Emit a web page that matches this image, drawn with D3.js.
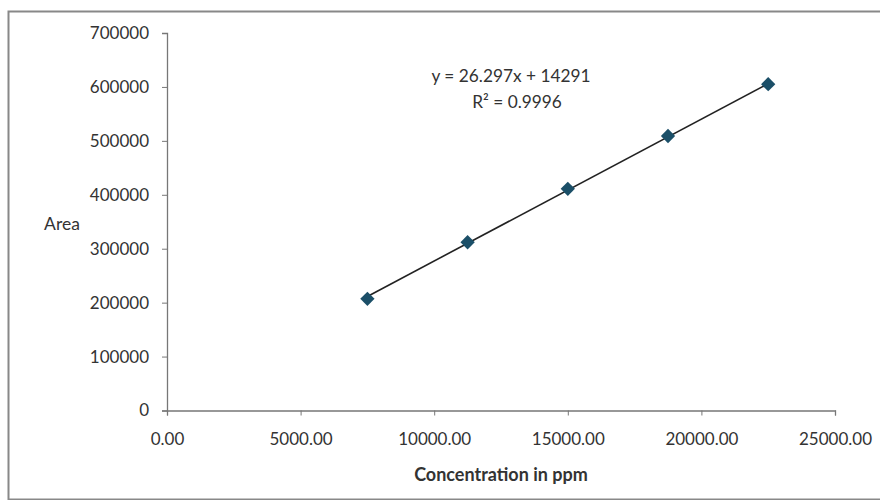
<!DOCTYPE html>
<html><head><meta charset="utf-8">
<script src="https://cdn.jsdelivr.net/npm/d3@7"></script>
<style>body{margin:0;background:#fff}svg{display:block}text{font-family:Lato,"Open Sans",sans-serif;fill:#333}</style>
</head><body>
<svg id="c" width="880" height="500"></svg>
<script>
const concentration = [7500, 11250, 15000, 18750, 22500];
const area = [207000, 312000, 411000, 509000, 605000];
const xTicks = [0, 5000, 10000, 15000, 20000, 25000];
const yTicks = [0, 100000, 200000, 300000, 400000, 500000, 600000, 700000];
const slope = 26.297, intercept = 14291, r2 = 0.9996;
const xTitle = "Concentration in ppm", yTitle = "Area";

const svg = d3.select("#c");
svg.append("rect").attr("x",8.5).attr("y",11.5).attr("width",900).attr("height",488)
  .attr("fill","#fff").attr("stroke","#888").attr("stroke-width",2);

const x = d3.scaleLinear().domain([0,25000]).range([167,835]);
const y = d3.scaleLinear().domain([0,700000]).range([410.5,33]);

const xa = svg.append("g").attr("transform","translate(0,410.5)")
  .call(d3.axisBottom(x).tickValues(xTicks).tickFormat(d=>d.toFixed(2)).tickSizeOuter(0).tickSize(5).tickPadding(17));
const ya = svg.append("g").attr("transform","translate(167,0)")
  .call(d3.axisLeft(y).tickValues(yTicks).tickFormat(d=>String(d)).tickSizeOuter(0).tickSize(5).tickPadding(13));
[xa,ya].forEach(a=>{
  a.select(".domain").attr("stroke","#777").attr("stroke-width",1.3);
  a.selectAll(".tick line").attr("stroke","#777");
  a.selectAll(".tick text").attr("font-size",17).attr("fill","#3a3a3a").style("font-family","Lato");
});

const x0 = d3.min(concentration), x1 = d3.max(concentration);
svg.append("line").attr("x1",x(x0)).attr("y1",y(slope*x0+intercept))
  .attr("x2",x(x1)).attr("y2",y(slope*x1+intercept)).attr("stroke","#222").attr("stroke-width",1.6);

const sym = d3.symbol().type(d3.symbolDiamond2).size(130);
svg.selectAll("path.pt").data(concentration).join("path").attr("class","pt")
  .attr("d",sym).attr("transform",(d,i)=>`translate(${x(d)},${y(area[i])})`)
  .attr("fill","#1b4f68");

svg.append("text").attr("x",511).attr("y",82).attr("text-anchor","middle").attr("font-size",17.3)
  .text(`y = ${slope}x + ${intercept}`);
svg.append("text").attr("x",517).attr("y",108).attr("text-anchor","middle").attr("font-size",17.3)
  .text(`R² = ${r2}`);

svg.append("text").attr("x",501).attr("y",481).attr("text-anchor","middle").attr("font-size",18)
  .attr("font-weight","bold").text(xTitle);
svg.append("text").attr("x",62).attr("y",230).attr("text-anchor","middle").attr("font-size",17.5)
  .text(yTitle);
</script>
</body></html>
